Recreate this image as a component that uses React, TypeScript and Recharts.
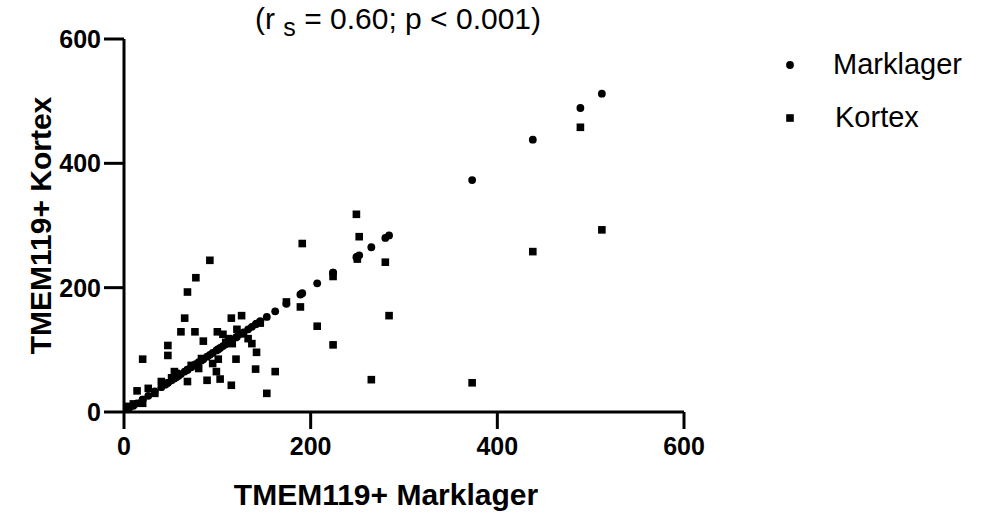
import React from 'react';
import {
  ScatterChart,
  Scatter,
  XAxis,
  YAxis,
  Legend,
  Label,
} from 'recharts';

// TMEM119+ cell counts per sample (Marklager = white matter, Kortex = cortex)
const marklager = [
  5, 10, 14, 20, 20, 26, 33, 40, 44, 47, 47, 51, 54, 56, 58, 61, 65, 68, 68, 72,
  76, 77, 80, 83, 85, 89, 92, 95, 99, 100, 101, 103, 106, 109, 112, 115, 115, 116,
  120, 121, 126, 128, 133, 137, 141, 142, 146, 153, 162, 174, 189, 191, 207, 224,
  224, 249, 250, 252, 265, 280, 284, 373, 438, 489, 512,
];
const kortex = [
  9, 13, 34, 14, 85, 38, 30, 49, 46, 107, 91, 55, 65, 62, 60, 129, 151, 193, 49, 75,
  129, 216, 70, 86, 114, 51, 244, 78, 65, 129, 85, 53, 125, 112, 118, 151, 43, 110,
  85, 133, 155, 126, 118, 110, 69, 96, 143, 30, 65, 177, 169, 271, 138, 108,
  218, 318, 246, 282, 52, 241, 155, 47, 258, 458, 293,
];
const axisTicks = [0, 200, 400, 600];
const seriesOrder = ['Marklager', 'Kortex'];

const marklagerPoints = marklager.map((m) => ({ x: m, y: m }));
const kortexPoints = marklager.map((m, i) => ({ x: m, y: kortex[i] }));

const FONT = "'Liberation Sans', Arial, sans-serif";

const Dot = (props: any) => <circle cx={props.cx} cy={props.cy} r={3.9} fill="#000" />;
const Square = (props: any) => (
  <rect x={props.cx - 3.8} y={props.cy - 3.8} width={7.6} height={7.6} fill="#000" />
);

const XLabel = (props: any) => {
  const vb = props.viewBox || { x: 124, y: 412, width: 560, height: 102 };
  return (
    <text
      x={vb.x + vb.width / 2 - 18}
      y={vb.y + 93}
      textAnchor="middle"
      fontFamily={FONT}
      fontWeight="bold"
      fontSize={30}
      fill="#000"
    >
      TMEM119+ Marklager
    </text>
  );
};

const YLabel = (props: any) => {
  const vb = props.viewBox || { x: 0, y: 39, width: 124, height: 373 };
  const cx = vb.x + 40;
  const cy = vb.y + vb.height / 2;
  return (
    <text
      x={cx}
      y={cy}
      transform={`rotate(-90, ${cx}, ${cy})`}
      textAnchor="middle"
      dominantBaseline="central"
      fontFamily={FONT}
      fontWeight="bold"
      fontSize={30}
      fill="#000"
    >
      TMEM119+ Kortex
    </text>
  );
};

const LegendContent = (props: any) => {
  const items = [...(props.payload || [])].sort(
    (a: any, b: any) => seriesOrder.indexOf(a.value) - seriesOrder.indexOf(b.value),
  );
  return (
    <div style={{ fontFamily: FONT, fontSize: 29, color: '#000' }}>
      {items.map((entry: any) => (
        <div key={entry.value} style={{ display: 'flex', alignItems: 'center', height: 53 }}>
          <svg width={30} height={30}>
            {entry.value === 'Marklager' ? (
              <circle cx={15} cy={15} r={3.9} fill="#000" />
            ) : (
              <rect x={11.2} y={11.2} width={7.6} height={7.6} fill="#000" />
            )}
          </svg>
          <span style={{ marginLeft: entry.value === 'Marklager' ? 28 : 30 }}>{entry.value}</span>
        </div>
      ))}
    </div>
  );
};

const App: React.FC = () => {
  const tickStyle = { fill: '#000', fontSize: 25, fontWeight: 'bold', fontFamily: FONT };
  return (
    <div style={{ position: 'absolute', left: 0, top: 0, width: 987, height: 514, background: '#fff' }}>
      <div
        style={{
          position: 'absolute',
          left: 398,
          top: 4,
          transform: 'translateX(-50%)',
          whiteSpace: 'nowrap',
          fontFamily: FONT,
          fontSize: 30,
          lineHeight: '30px',
          color: '#000',
          zIndex: 2,
        }}
      >
        (r <span style={{ fontSize: 25, position: 'relative', top: 7 }}>s</span> = 0.60; p &lt; 0.001)
      </div>
      <ScatterChart width={987} height={514} margin={{ top: 39, right: 303, bottom: 0, left: 0 }}>
        <XAxis
          type="number"
          dataKey="x"
          domain={[0, 600]}
          ticks={axisTicks}
          height={102}
          tick={tickStyle}
          tickSize={17}
          tickMargin={8}
          axisLine={{ stroke: '#000', strokeWidth: 3 }}
          tickLine={{ stroke: '#000', strokeWidth: 3 }}
          allowDataOverflow
        >
          <Label content={<XLabel />} />
        </XAxis>
        <YAxis
          type="number"
          dataKey="y"
          domain={[0, 600]}
          ticks={axisTicks}
          width={124}
          tick={tickStyle}
          tickSize={20}
          tickMargin={3}
          axisLine={{ stroke: '#000', strokeWidth: 3 }}
          tickLine={{ stroke: '#000', strokeWidth: 3 }}
          allowDataOverflow
        >
          <Label content={<YLabel />} />
        </YAxis>
        <Legend
          layout="vertical"
          align="center"
          verticalAlign="middle"
          content={<LegendContent />}
          wrapperStyle={{ position: 'absolute', left: 775, top: 38, width: 200 }}
        />
        <Scatter
          name="Marklager"
          data={marklagerPoints}
          fill="#000"
          shape={<Dot />}
          legendType="circle"
          isAnimationActive={false}
        />
        <Scatter
          name="Kortex"
          data={kortexPoints}
          fill="#000"
          shape={<Square />}
          legendType="square"
          isAnimationActive={false}
        />
      </ScatterChart>
    </div>
  );
};

export default App;
